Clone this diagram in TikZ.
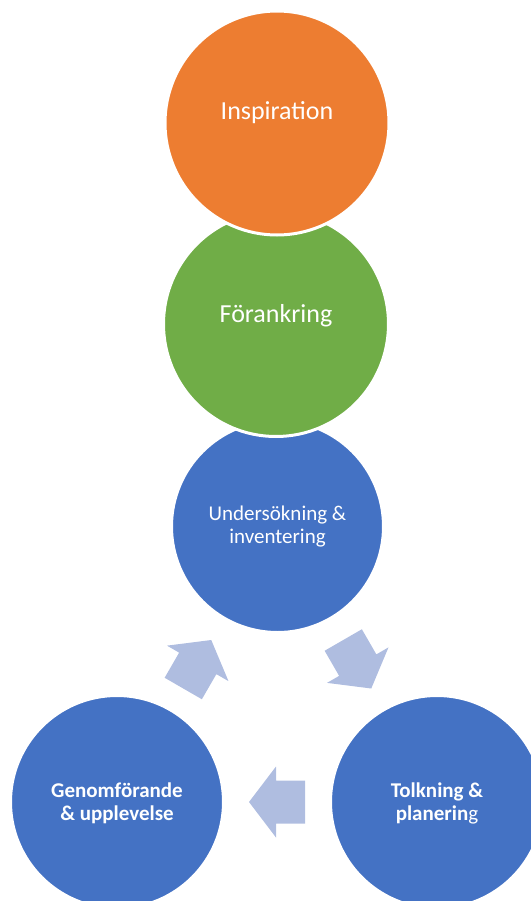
\documentclass[tikz,border=0pt]{standalone}
\usepackage{fontspec}
\setmainfont{Carlito}
\usetikzlibrary{calc}
\definecolor{insporange}{HTML}{ED7D31}
\definecolor{foragreen}{HTML}{70AD47}
\definecolor{stepblue}{HTML}{4472C4}
\definecolor{arrowblue}{HTML}{AFBDE0}
\begin{document}
\begin{tikzpicture}[x=1pt,y=-1pt,
  disc/.style={circle, draw=white, line width=3pt, inner sep=0pt},
  bigtxt/.style={text=white, font=\fontsize{26}{31}\selectfont, anchor=base, inner sep=0pt},
  midtxt/.style={text=white, font=\fontsize{21}{25}\selectfont, anchor=base, inner sep=0pt},
  boldtxt/.style={text=white, font=\fontsize{21}{25}\selectfont\bfseries, anchor=base, inner sep=0pt},
  cyclearrow/.style={fill=arrowblue}]
\useasboundingbox (0,0) rectangle (530,901);
% circles
\node[disc, fill=stepblue, minimum size=212pt] (under) at (277.5,526.5) {};
\node[disc, fill=foragreen, minimum size=225pt] (fora) at (276,324) {};
\node[disc, fill=insporange, minimum size=224pt] (insp) at (277,123) {};
\node[disc, fill=stepblue, minimum size=213pt] (genom) at (117,802) {};
\node[disc, fill=stepblue, minimum size=213pt] (tolk) at (437,802) {};
% labels
\node[bigtxt] (tinsp) at (277,120) {Inspiration};
\node[bigtxt] (tfora) at (276,322) {Förankring};
\node[midtxt] (tunder1) at (277.5,520) {Undersökning \&};
\node[midtxt] (tunder2) at (277.5,543.3) {inventering};
\node[boldtxt] (tgenom1) at (117,797.3) {Genomförande};
\node[boldtxt] (tgenom2) at (117,820.7) {\& upplevelse};
\node[boldtxt] (ttolk1) at (437,797.3) {Tolkning \&};
\node[boldtxt] (ttolk2) at (437,820.7) {planerin\textmd{g}};
% block arrows of the cycle
\fill[cyclearrow, shift={($(genom)!0.5!(under)$)}, rotate=60]
  (-28,-21.5) -- (1,-21.5) -- (1,-35.5) -- (28,0) -- (1,35.5) -- (1,21.5) -- (-28,21.5) -- cycle;
\fill[cyclearrow, shift={($(under)!0.5!(tolk)$)}, rotate=-60]
  (-28,-21.5) -- (1,-21.5) -- (1,-35.5) -- (28,0) -- (1,35.5) -- (1,21.5) -- (-28,21.5) -- cycle;
\fill[cyclearrow, shift={($(tolk)!0.5!(genom)$)}, rotate=180]
  (-28,-21.5) -- (1,-21.5) -- (1,-35.5) -- (28,0) -- (1,35.5) -- (1,21.5) -- (-28,21.5) -- cycle;
\end{tikzpicture}
\end{document}
